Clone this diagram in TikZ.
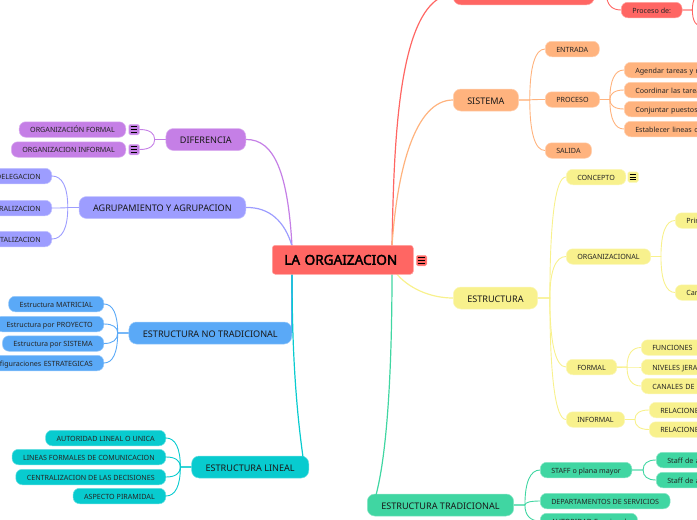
\documentclass[tikz,border=0pt]{standalone}
\usepackage{fontspec}
\setmainfont{Noto Sans}
\newfontfamily\rootfont[FakeBold=2.5]{Noto Sans}
\usetikzlibrary{positioning,calc}
\definecolor{cred}{HTML}{FF6663}
\definecolor{cpurple}{HTML}{C57FE6}
\definecolor{cviolet}{HTML}{9D9DFF}
\definecolor{cblue}{HTML}{5AA9F7}
\definecolor{cteal}{HTML}{08CBCF}
\definecolor{cgreen}{HTML}{40D6A2}
\definecolor{cyellow}{HTML}{F8F18D}
\definecolor{corange}{HTML}{FFB37E}
\tikzset{
	lvlone/.style={fill=#1, draw=#1!60!white, line width=.5pt, rounded corners=7.5pt, minimum height=22pt, inner xsep=14pt, inner ysep=0pt, text height=8pt, text depth=0pt, font=\fontsize{9.1}{9.1}\selectfont, text=black!90},
	leaf/.style={fill=#1, draw=#1!60!white, line width=.5pt, rounded corners=6.5pt, minimum height=15.5pt, inner xsep=11pt, inner ysep=0pt, text height=6pt, text depth=0pt, font=\fontsize{7.15}{7.15}\selectfont, text=black!85},
	link/.style={#1, line width=.9pt},
	mainlink/.style={#1, line width=1.2pt},
	notemark/.style={fill=#1, draw=#1!60!white, line width=.5pt, rounded corners=1.5pt, minimum size=10.5pt, inner sep=0pt, path picture={
		\foreach \dy in {-2.8,0,2.8}
			\draw[black, line width=.8pt] ($(path picture bounding box.center)+(-3.3,\dy)$) -- ++(6.6,0);
	}},
}
\newcommand{\forkline}[4]{\draw[link=#1] (#2) -- ++(#3,0) coordinate (fk) .. controls ($(fk)!.65!(fk |- #4)$) and ($(fk |- #4)!.35!(#4)$) .. (#4);}
\begin{document}
\begin{tikzpicture}[x=1pt, y=-1pt]
	\clip[use as bounding box] (0,0) rectangle (697,520);
	% anchors on the root box
	\coordinate (rootnw) at (292,246);
	\coordinate (rootsw) at (292,273);
	\coordinate (rootne) at (392,246);
	\coordinate (rootse) at (392,273);
	\coordinate (rootsy) at (396,273);
	\coordinate (lintop) at (303,457);
	\coordinate (tradtop) at (376,495);

	% main branches
	\node[lvlone=cpurple, anchor=east] (dif) at (246,139.5) {DIFERENCIA};
	\node[lvlone=cviolet, anchor=east] (agr) at (246,207.5) {AGRUPAMIENTO Y AGRUPACION};
	\node[lvlone=cblue, anchor=east] (notrad) at (292,333) {ESTRUCTURA NO TRADICIONAL};
	\node[lvlone=cteal, anchor=east] (lineal) at (309,467) {ESTRUCTURA LINEAL};
	\node[lvlone=cgreen, anchor=west] (trad) at (367,505) {ESTRUCTURA TRADICIONAL};
	\node[lvlone=cyellow, anchor=west] (estr) at (453,298) {ESTRUCTURA};
	\node[lvlone=corange, anchor=west] (sist) at (453,100) {SISTEMA};
	\node[lvlone=cred, minimum width=141pt, anchor=south west] (top) at (453,5) {};

	\draw[mainlink=cpurple] (dif.east) .. controls (275,139) and (288,175) .. (rootnw);
	\draw[mainlink=cviolet] (agr.east) .. controls (270,207) and (285,222) .. (rootnw);
	\draw[mainlink=cblue] (notrad.east) -- (rootsw);
	\draw[mainlink=cteal] (lintop) .. controls (295,400) and (292,340) .. (rootsw);
	\draw[mainlink=cred] (rootne) .. controls (394,140) and (398,-2) .. (top.west);
	\draw[mainlink=corange] (rootne) .. controls (397,170) and (415,100) .. (sist.west);
	\draw[mainlink=cyellow] (rootsy) .. controls (408,288) and (430,298) .. (estr.west);
	\draw[mainlink=cgreen] (rootse) .. controls (392,360) and (388,450) .. (tradtop);

	% left side
	\node[notemark=cpurple, anchor=east] (ma) at (139.5,129.5) {};
	\node[notemark=cpurple, anchor=east] (mb) at (139.5,149.5) {};
	\node[leaf=cpurple, anchor=east] (orgf) at (126,129.5) {ORGANIZACIÓN FORMAL};
	\node[leaf=cpurple, anchor=east] (orgi) at (126,149.5) {ORGANIZACION INFORMAL};
	\foreach \kid in {ma,mb}
		{\forkline{cpurple}{dif.west}{-11}{\kid.east}}

	\node[leaf=cviolet, anchor=east, text width=60pt, align=right] (dele) at (52,176) {DELEGACION};
	\node[leaf=cviolet, anchor=east, text width=60pt, align=right] (cent) at (52,208) {RALIZACION};
	\node[leaf=cviolet, anchor=east, text width=60pt, align=right] (talz) at (52,239) {TALIZACION};
	\foreach \kid in {dele,cent,talz}
		{\forkline{cviolet}{agr.west}{-11}{\kid.east}}

	\node[leaf=cblue, anchor=east] (matr) at (104,304) {Estructura MATRICIAL};
	\node[leaf=cblue, anchor=east] (proy) at (104,324) {Estructura por PROYECTO};
	\node[leaf=cblue, anchor=east] (sisa) at (104,343.5) {Estructura por SISTEMA};
	\node[leaf=cblue, anchor=east, text width=110pt, align=right] (conf) at (104,363) {figuraciones ESTRATEGICAS};
	\foreach \kid in {matr,proy,sisa,conf}
		{\forkline{cblue}{notrad.west}{-11}{\kid.east}}

	\node[leaf=cteal, anchor=east] (auto) at (166,438) {AUTORIDAD LINEAL O UNICA};
	\node[leaf=cteal, anchor=east] (form) at (166,457) {LINEAS FORMALES DE COMUNICACION};
	\node[leaf=cteal, anchor=east] (deci) at (166,477) {CENTRALIZACION DE LAS DECISIONES};
	\node[leaf=cteal, anchor=east] (pira) at (166,496) {ASPECTO PIRAMIDAL};
	\foreach \kid in {auto,form,deci,pira}
		{\forkline{cteal}{lineal.west}{-11}{\kid.east}}

	% root on top of its branches
	\node[fill=cred, draw=cred!60!white, line width=.5pt, rounded corners=3pt, text width=117pt, align=left, minimum height=29pt, inner xsep=12pt, inner ysep=0pt, text height=10pt, text depth=0pt, text=black, font=\fontsize{13.6}{13.6}\rootfont, anchor=north west] (root) at (272,245) {LA ORGAIZACION};
	\node[notemark=cred, anchor=west] (mroot) at (416,260.5) {};

	% sistema
	\node[leaf=cred, anchor=west] (proc) at (621,10) {Proceso de:};
	\forkline{cred}{top.east}{12}{proc.west}
	\coordinate (pa) at (703,-7);
	\coordinate (pb) at (703,27);
	\foreach \kid in {pa,pb}
		{\forkline{cred}{proc.east}{10}{\kid}}

	\node[leaf=corange, anchor=west] (entr) at (545,49) {ENTRADA};
	\node[leaf=corange, anchor=west] (pces) at (545,99.5) {PROCESO};
	\node[leaf=corange, anchor=west] (sali) at (545,150.5) {SALIDA};
	\foreach \kid in {entr,pces,sali}
		{\forkline{corange}{sist.east}{11}{\kid.west}}

	\node[leaf=corange, anchor=west, text width=90pt, align=left] (ta) at (624,70) {Agendar tareas y r};
	\node[leaf=corange, anchor=west, text width=90pt, align=left] (tb) at (624,90) {Coordinar las tarea};
	\node[leaf=corange, anchor=west, text width=90pt, align=left] (tc) at (624,109) {Conjuntar puestos};
	\node[leaf=corange, anchor=west, text width=90pt, align=left] (td) at (624,129) {Establecer lineas c};
	\foreach \kid in {ta,tb,tc,td}
		{\forkline{corange}{pces.east}{10}{\kid.west}}

	% estructura
	\node[leaf=cyellow, anchor=west] (conc) at (566,177) {CONCEPTO};
	\node[notemark=cyellow, anchor=west] (mconc) at (627.5,177) {};
	\node[leaf=cyellow, anchor=west] (orgz) at (566,256.5) {ORGANIZACIONAL};
	\node[leaf=cyellow, anchor=west] (fmal) at (566,367) {FORMAL};
	\node[leaf=cyellow, anchor=west] (ifml) at (566,419.5) {INFORMAL};
	\foreach \kid in {conc,orgz,fmal,ifml}
		{\forkline{cyellow}{estr.east}{12}{\kid.west}}

	\node[leaf=cyellow, anchor=west, text width=40pt, align=left] (prin) at (675,220.5) {Prin};
	\node[leaf=cyellow, anchor=west, text width=40pt, align=left] (cann) at (675,292.5) {Can};
	\foreach \kid in {prin,cann}
		{\forkline{cyellow}{orgz.east}{10}{\kid.west}}

	\node[leaf=cyellow, anchor=west, text width=60pt, align=left] (func) at (641,347.5) {FUNCIONES};
	\node[leaf=cyellow, anchor=west, text width=60pt, align=left] (nive) at (641,367) {NIVELES JERA};
	\node[leaf=cyellow, anchor=west, text width=60pt, align=left] (cana) at (641,386) {CANALES DE C};
	\foreach \kid in {func,nive,cana}
		{\forkline{cyellow}{fmal.east}{10}{\kid.west}}

	\node[leaf=cyellow, anchor=west, text width=60pt, align=left] (rela) at (649,410) {RELACIONE};
	\node[leaf=cyellow, anchor=west, text width=60pt, align=left] (relb) at (649,429.5) {RELACIONE};
	\foreach \kid in {rela,relb}
		{\forkline{cyellow}{ifml.east}{10}{\kid.west}}

	% tradicional
	\node[leaf=cgreen, anchor=west] (staf) at (540,470) {STAFF o plana mayor};
	\node[leaf=cgreen, anchor=west] (depa) at (540,501) {DEPARTAMENTOS DE SERVICIOS};
	\node[leaf=cgreen, anchor=west] (autf) at (540,521) {AUTORIDAD Funcional};
	\foreach \kid in {staf,depa,autf}
		{\forkline{cgreen}{trad.east}{11}{\kid.west}}

	\node[leaf=cgreen, anchor=west, text width=50pt, align=left] (sfa) at (656,460) {Staff de a};
	\node[leaf=cgreen, anchor=west, text width=50pt, align=left] (sfb) at (656,480) {Staff de a};
	\foreach \kid in {sfa,sfb}
		{\forkline{cgreen}{staf.east}{11}{\kid.west}}
\end{tikzpicture}
\end{document}
